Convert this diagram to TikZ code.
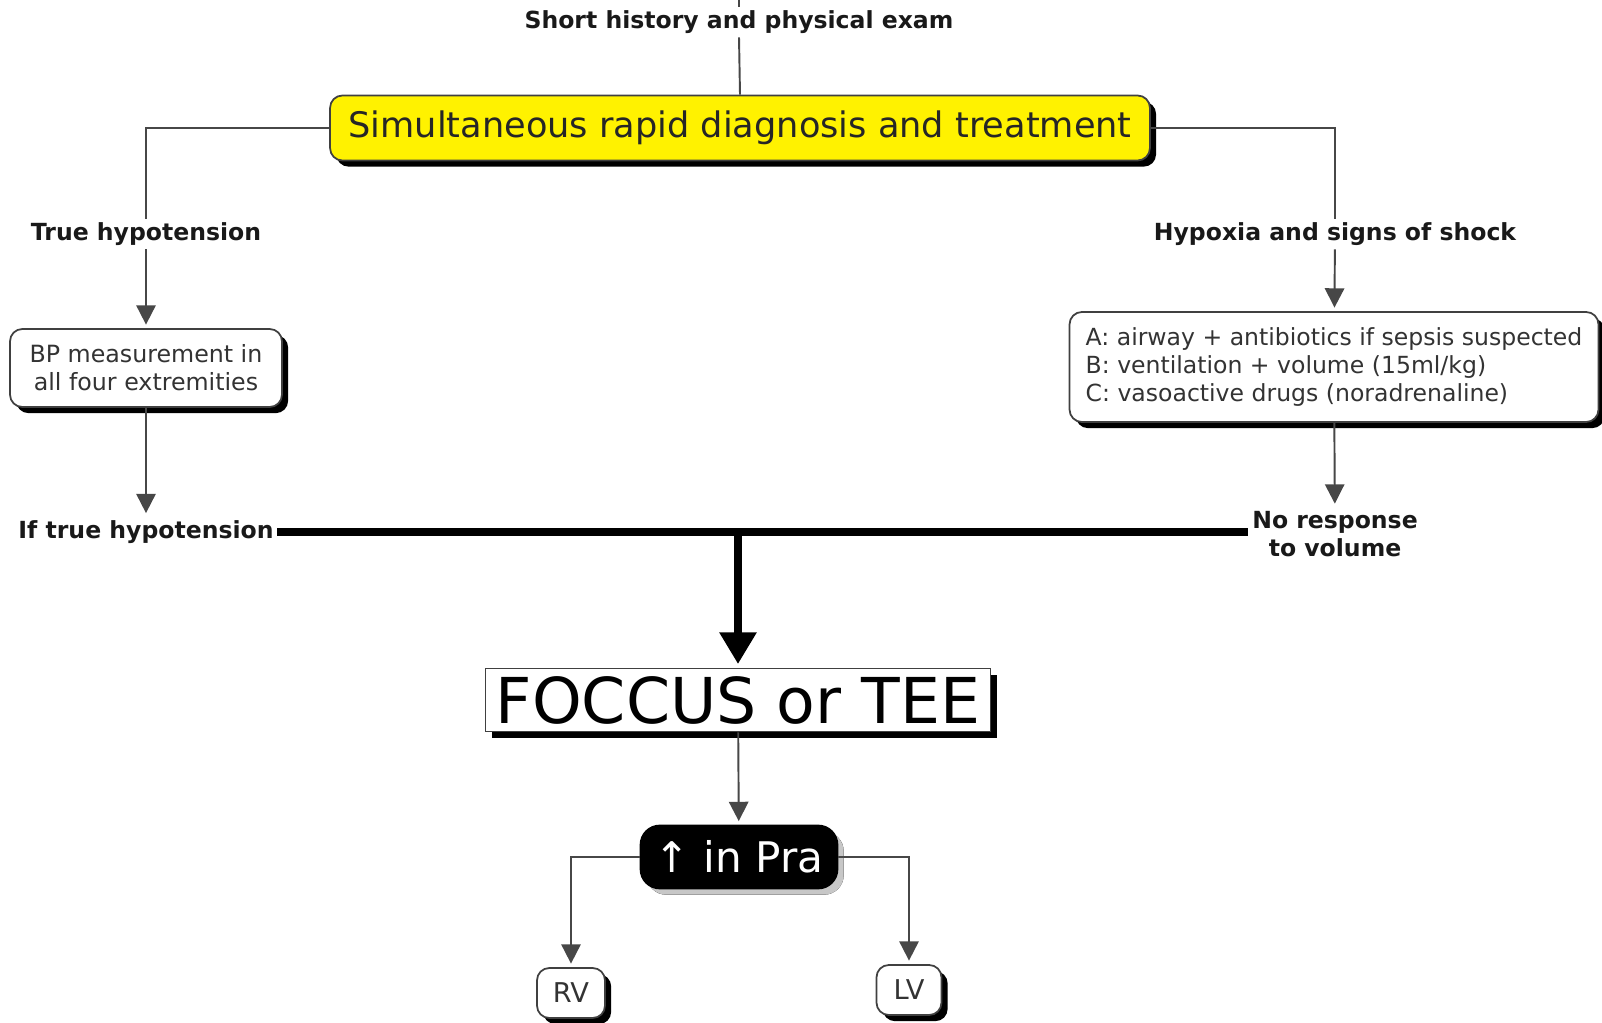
\documentclass[tikz,border=0pt]{standalone}
\usepackage{fontspec}
\setmainfont{DejaVu Sans}
\usetikzlibrary{arrows.meta,shadows}

\tikzset{
  box/.style={draw=black!75, line width=1pt, fill=white, rounded corners=7pt,
    text=black!80, drop shadow={shadow xshift=3.5pt, shadow yshift=-3.5pt, fill=black, opacity=1}},
  tag/.style={font=\bfseries\fontsize{13.4}{16.2}\selectfont, text=black!90, inner sep=2pt},
  link/.style={draw=black!72, line width=1.1pt},
  arrow/.style={link, -{Triangle[width=11pt,length=11pt]}, shorten >=2pt},
}

\begin{document}
\begin{tikzpicture}[x=0.02cm,y=-0.02cm]
  \useasboundingbox (0,0) rectangle (1602,1023);

  % plain bold labels
  \begin{scope}[every node/.style={tag}]
    \node (hist)    at (739,22)   {Short history and physical exam};
    \node (truehyp) at (146,234)  {True hypotension};
    \node (hypox)   at (1335,234) {Hypoxia and signs of shock};
    \node (iftrue)  at (146,532)  {If true hypotension};
    \node[align=center] (noresp) at (1335,534) {No response\\to volume};
  \end{scope}

  % boxes
  \node[box, fill=yellow, text=black!85, minimum width=16.4cm, minimum height=1.3cm,
        font=\fontsize{20}{23}\selectfont] (diag) at (740,128)
        {Simultaneous rapid diagnosis and treatment};
  \node[box, minimum width=5.44cm, minimum height=1.56cm, align=center,
        font=\fontsize{13.5}{16}\selectfont] (bp) at (146,368)
        {BP measurement in\\all four extremities};
  \node[box, minimum width=10.58cm, minimum height=2.2cm, align=left,
        font=\fontsize{13.4}{16}\selectfont] (abc) at (1334,367)
        {A: airway + antibiotics if sepsis suspected\\
         B: ventilation + volume (15ml/kg)\\
         C: vasoactive drugs (noradrenaline)};
  \node[box, rounded corners=0pt, text=black, minimum width=10.1cm, minimum height=1.26cm,
        inner sep=1pt, font=\fontsize{36}{40}\selectfont] (foccus) at (738,700) {FOCCUS or TEE};
  \node[box, fill=black, draw=black, text=white, rounded corners=11pt,
        drop shadow={shadow xshift=3.5pt, shadow yshift=-3.5pt, fill=black!22, opacity=1},
        minimum width=3.94cm, minimum height=1.26cm,
        font=\fontsize{24}{27}\selectfont] (pra) at (739,857) {↑ in Pra};
  \node[box, minimum width=1.36cm, minimum height=1cm, inner sep=1pt,
        font=\fontsize{15.5}{18}\selectfont] (rv) at (571,993) {RV};
  \node[box, minimum width=1.3cm, minimum height=1cm, inner sep=1pt,
        font=\fontsize{15.5}{18}\selectfont] (lv) at (909,990) {LV};

  % connectors
  \coordinate (top) at (739,0);
  \draw[link] (top) -- (hist.north);
  \draw[link] (hist.south) -- (diag.north);
  \draw[link] (diag.west) -| (truehyp.north);
  \draw[link] (diag.east) -| (hypox.north);
  \draw[arrow] (truehyp) -- (bp);
  \draw[arrow] (bp) -- (iftrue);
  \draw[arrow] (hypox) -- (abc);
  \draw[arrow] (abc) -- (noresp);

  \draw[line width=4pt] (iftrue.east) -- (iftrue.east -| noresp.west);
  \draw[line width=5pt, -{Triangle[width=20pt,length=18pt]}, shorten >=2pt]
    (foccus.north |- iftrue.east) -- (foccus.north);

  \draw[arrow] (foccus) -- (pra);
  \draw[arrow] (pra.west) -| (rv.north);
  \draw[arrow] (pra.east) -| (lv.north);
\end{tikzpicture}
\end{document}
